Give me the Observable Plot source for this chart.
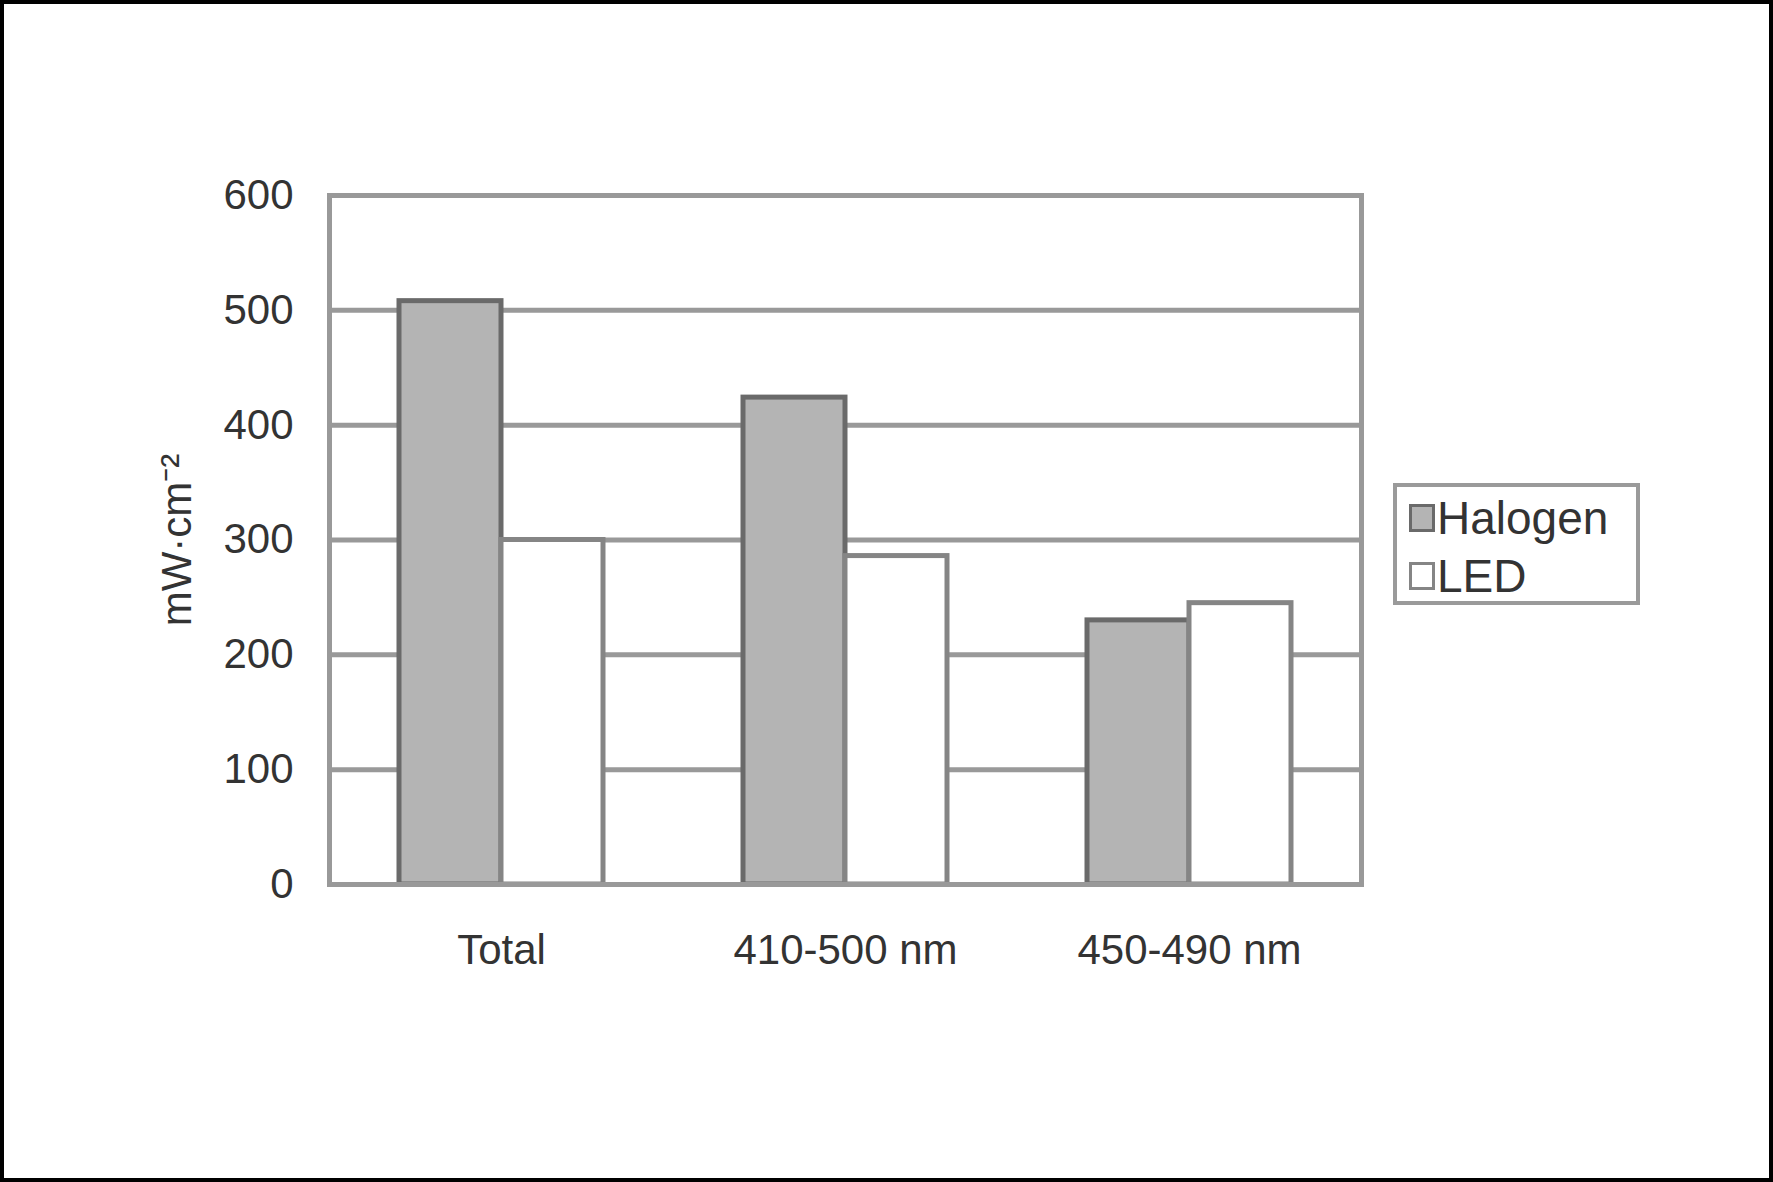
<!DOCTYPE html>
<html>
<head>
<meta charset="utf-8">
<script src="https://cdn.jsdelivr.net/npm/d3@7"></script>
<script src="https://cdn.jsdelivr.net/npm/@observablehq/plot@0.6"></script>
<style>
  html, body { margin: 0; padding: 0; background: #fff; }
  #wrap {
    position: relative; width: 1773px; height: 1182px; background: #fff;
    font-family: "Liberation Sans", Arial, sans-serif;
  }
  #wrap svg { position: absolute; left: 0; top: 0; }
  #border {
    position: absolute; left: 0; top: 0; width: 1773px; height: 1182px;
    box-sizing: border-box; border: 4px solid #000; pointer-events: none;
  }
  #legend {
    position: absolute; left: 1393px; top: 483px; width: 247px; height: 122px;
    box-sizing: border-box; border: 4px solid #9a9a9a; background: #fff;
    font-size: 46px; color: #333; padding: 2px 0 0 12px;
  }
  .row { display: flex; align-items: center; height: 58px; }
  .sw { width: 20px; height: 22px; border: 3px solid #777; margin-right: 2px; }
</style>
</head>
<body>
<div id="wrap"><div id="legend"></div><div id="border"></div></div>
<script>
const categories = ["Total", "410-500 nm", "450-490 nm"];
const series = ["Halogen", "LED"];
const halogen = [508, 424, 230];
const led = [300, 286, 245];
const yTicks = [0, 100, 200, 300, 400, 500, 600];
const fills = ["#b4b4b4", "#ffffff"];
const strokes = ["#6a6a6a", "#858585"];

const data = categories.flatMap((c, i) => [
  {category: c, series: series[0], value: halogen[i]},
  {category: c, series: series[1], value: led[i]}
]);

const chart = Plot.plot({
  width: 1773, height: 1182,
  marginLeft: 328, marginRight: 411, marginTop: 195, marginBottom: 298,
  style: {fontFamily: '"Liberation Sans", Arial, sans-serif', fontSize: "42px", color: "#333", background: "transparent", overflow: "visible"},
  fx: {domain: categories, padding: 0, label: null, tickSize: 0, tickPadding: 50},
  x: {domain: series, paddingInner: 0, paddingOuter: 0.67, axis: null},
  y: {domain: [0, 600], ticks: yTicks, tickSize: 0, tickPadding: 36,
      label: "mW·cm⁻²", labelAnchor: "center", labelArrow: "none", labelOffset: 168},
  marks: [
    Plot.ruleY(yTicks.filter(d => d > 0 && d < 600), {stroke: "#999", strokeWidth: 5}),
    ...series.map((s, i) => Plot.barY(data.filter(d => d.series === s), {
      fx: "category", x: "series", y: "value",
      fill: fills[i], stroke: strokes[i], strokeWidth: 5
    })),
    Plot.ruleY([0, 600], {stroke: "#999", strokeWidth: 5}),
    Plot.frame({anchor: "left", facetAnchor: "left", stroke: "#999", strokeWidth: 5}),
    Plot.frame({anchor: "right", facetAnchor: "right", stroke: "#999", strokeWidth: 5})
  ]
});
document.getElementById("wrap").prepend(chart);

const legend = document.getElementById("legend");
series.forEach((s, i) => {
  const row = document.createElement("div");
  row.className = "row";
  const sw = document.createElement("div");
  sw.className = "sw";
  sw.style.background = fills[i];
  sw.style.borderColor = strokes[i];
  const t = document.createElement("span");
  t.textContent = s;
  row.append(sw, t);
  legend.append(row);
});
</script>
</body>
</html>
